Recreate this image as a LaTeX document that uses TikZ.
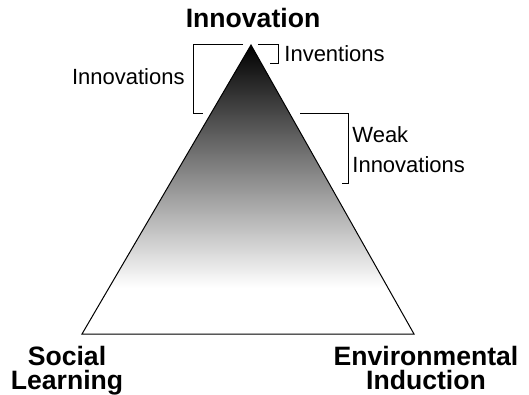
\documentclass[tikz,border=0pt]{standalone}
\usepackage{fontspec}
\setmainfont{Liberation Sans}
\pgfdeclareverticalshading{pyramid}{100bp}{color(0bp)=(white); color(33bp)=(white); color(75bp)=(black); color(100bp)=(black)}

\begin{document}
\begin{tikzpicture}
		[x=0.5pt,y=-0.5pt,
		 corner/.style={inner sep=0,font=\fontsize{13.3}{12}\selectfont\bfseries,align=center},
		 tag/.style={inner sep=0,font=\fontsize{11}{15}\selectfont,align=left},
		 bracket/.style={draw,line width=0.5pt}]
		\useasboundingbox (0,0) rectangle (529,395);

		\coordinate (apex) at (251,45);
		\coordinate (sl) at (82,334);
		\coordinate (ei) at (414,334);
		\shade[shading=pyramid,draw=black,line width=0.5pt] (apex) -- (sl) -- (ei) -- cycle;

		\node[corner,anchor=base] (inn) at (253,28) {Innovation};
		\node[corner,anchor=base] (soc) at (67,389) {Social\\Learning};
		\node[corner,anchor=base] (env) at (426,389) {Environmental\\Induction};

		\node[tag,anchor=base east] (innos) at (185,85) {Innovations};
		\node[tag,anchor=base west] (invs) at (284,62) {Inventions};
		\node[tag,anchor=base west] (weak) at (352,173) {Weak\\Innovations};

		\draw[bracket] (243,45) -- (193,45) -- (193,114) -- (203,114);
		\draw[bracket] (258,45) -- (278,45) -- (278,64) -- (270,64);
		\draw[bracket] (300,114) -- (348,114) -- (348,184) -- (342,184);

	\end{tikzpicture}
\end{document}
